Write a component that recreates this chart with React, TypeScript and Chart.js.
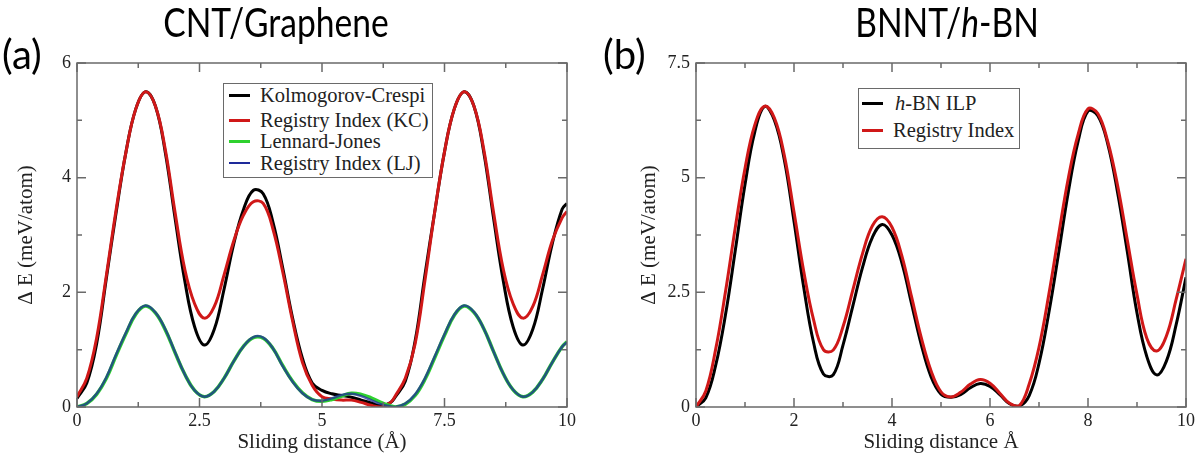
import React, { useEffect, useRef } from "react";
import { Chart, registerables } from "chart.js";

Chart.register(...registerables);

const SERIF = "'Liberation Serif', 'Times New Roman', serif";
const SANS = "Lato, 'Open Sans', sans-serif";

// ---------- Panel (a): CNT/Graphene ----------
const A_X = [
  0, 0.2, 0.4, 0.6, 0.8, 1.0, 1.2, 1.4, 1.6, 1.8, 2.0, 2.2, 2.4, 2.6, 2.8, 3.0, 3.2,
  3.4, 3.6, 3.8, 4.0, 4.2, 4.4, 4.6, 4.8, 5.0, 5.2, 5.4, 5.6, 5.8, 6.0, 6.2, 6.4,
  6.5, 6.7, 6.9, 7.1, 7.3, 7.5, 7.7, 7.9, 8.1, 8.3, 8.5, 8.7, 8.9, 9.1, 9.3, 9.5,
  9.7, 9.9, 10.0,
];
const A_KC = [
  0.15, 0.42, 1.1, 2.25, 3.4, 4.45, 5.2, 5.5, 5.25, 4.45, 3.3, 2.2, 1.4, 1.08, 1.35, 2.05, 2.85,
  3.45, 3.78, 3.72, 3.22, 2.42, 1.55, 0.85, 0.42, 0.29, 0.23, 0.2, 0.17, 0.12, 0.07, 0.02, 0.08,
  0.18, 0.45, 1.15, 2.3, 3.4, 4.45, 5.2, 5.5, 5.25, 4.45, 3.3, 2.2, 1.4, 1.08, 1.35, 2.05,
  2.85, 3.45, 3.55,
];
const A_RI_KC = [
  0.18, 0.5, 1.2, 2.3, 3.45, 4.45, 5.2, 5.5, 5.25, 4.5, 3.4, 2.4, 1.8, 1.55, 1.75, 2.3, 2.9,
  3.35, 3.58, 3.55, 3.1, 2.35, 1.5, 0.78, 0.38, 0.18, 0.14, 0.12, 0.12, 0.08, 0.03, 0.0, 0.08,
  0.2, 0.5, 1.1, 2.2, 3.4, 4.45, 5.2, 5.5, 5.25, 4.5, 3.4, 2.4, 1.8, 1.55, 1.75, 2.3,
  2.9, 3.3, 3.41,
];
const A_LJ = [
  0.0, 0.06, 0.22, 0.5, 0.9, 1.28, 1.62, 1.76, 1.64, 1.35, 0.95, 0.57, 0.29, 0.18, 0.27, 0.5, 0.8,
  1.06, 1.21, 1.2, 1.02, 0.72, 0.45, 0.25, 0.13, 0.1, 0.13, 0.19, 0.24, 0.22, 0.16, 0.08, 0.02,
  0.0, 0.05, 0.2, 0.48, 0.86, 1.25, 1.6, 1.76, 1.65, 1.37, 0.97, 0.58, 0.3, 0.18, 0.26, 0.48,
  0.78, 1.05, 1.14,
];
const A_RI_LJ = [
  0.0, 0.06, 0.23, 0.52, 0.92, 1.3, 1.63, 1.77, 1.65, 1.36, 0.96, 0.57, 0.29, 0.18, 0.27, 0.5, 0.8,
  1.06, 1.22, 1.21, 1.02, 0.71, 0.44, 0.24, 0.13, 0.11, 0.15, 0.21, 0.23, 0.19, 0.12, 0.05, 0.01,
  0.0, 0.06, 0.22, 0.5, 0.88, 1.27, 1.61, 1.77, 1.66, 1.37, 0.97, 0.58, 0.3, 0.18, 0.26, 0.48,
  0.78, 1.05, 1.13,
];
const A_X_MAJOR = [0, 2.5, 5, 7.5, 10];
const A_X_MINOR = [1.25, 3.75, 6.25, 8.75];
const A_Y_MAJOR = [0, 2, 4, 6];
const A_Y_MINOR = [1, 3, 5];
const A_LABELS = ["Kolmogorov-Crespi", "Registry Index (KC)", "Lennard-Jones", "Registry Index (LJ)"];

// ---------- Panel (b): BNNT/h-BN ----------
const B_X = [
  0, 0.2, 0.4, 0.6, 0.8, 1.0, 1.2, 1.4, 1.6, 1.8, 2.0, 2.2, 2.4, 2.6, 2.8, 3.0, 3.2, 3.4,
  3.6, 3.8, 4.0, 4.2, 4.4, 4.6, 4.8, 5.0, 5.2, 5.4, 5.6, 5.8, 6.0, 6.2, 6.4, 6.6, 6.8,
  7.0, 7.2, 7.4, 7.6, 7.8, 8.0, 8.2, 8.4, 8.6, 8.8, 9.0, 9.2, 9.4, 9.6, 9.8, 10.0,
];
const B_ILP = [
  0.0, 0.2, 0.9, 2.0, 3.4, 4.85, 6.0, 6.55, 6.25, 5.4, 4.05, 2.6, 1.4, 0.72, 0.7, 1.35, 2.2, 3.05,
  3.7, 3.98, 3.75, 3.15, 2.25, 1.35, 0.65, 0.28, 0.21, 0.27, 0.42, 0.51, 0.45, 0.27, 0.07, 0.02, 0.25,
  0.95, 2.05, 3.35, 4.7, 5.8, 6.45, 6.35, 5.75, 4.7, 3.4, 2.05, 1.1, 0.7, 1.0, 1.8, 2.83,
];
const B_RI = [
  0.0, 0.35, 1.25, 2.5, 3.9, 5.2, 6.15, 6.56, 6.3, 5.5, 4.25, 2.95, 1.9, 1.25, 1.24, 1.75, 2.55, 3.35,
  3.95, 4.15, 3.92, 3.3, 2.4, 1.5, 0.78, 0.33, 0.22, 0.32, 0.5, 0.6, 0.52, 0.3, 0.08, 0.03, 0.5,
  1.3, 2.45, 3.75, 5.0, 5.95, 6.5, 6.4, 5.8, 4.85, 3.65, 2.45, 1.5, 1.22, 1.55, 2.35, 3.23,
];
const B_X_MAJOR = [0, 2, 4, 6, 8, 10];
const B_X_MINOR = [1, 3, 5, 7, 9];
const B_Y_MAJOR = [0, 2.5, 5, 7.5];
const B_Y_MINOR = [1.25, 3.75, 6.25];
const B_LABELS = ["h-BN ILP", "Registry Index"];

const BLACK = "#000000";
const RED = "#d01818";
const GREEN = "#2ed12e";
const BLUE = "#1e2a9a";
const BLUE_OVER = "rgba(30,42,154,0.74)";
const FRAME = "#6a6a6a";
const TEXT = "#222222";

const frameTicks = {
  id: "frameTicks",
  afterDatasetsDraw(chart: any, _args: any, opts: any) {
    const { ctx, chartArea } = chart;
    const { left, right, top, bottom } = chartArea;
    const xs = chart.scales.x;
    const ys = chart.scales.y;
    ctx.save();
    ctx.strokeStyle = FRAME;
    ctx.lineWidth = 1.5;
    ctx.beginPath();
    const drawX = (vals: number[], len: number) => {
      for (const v of vals) {
        const p = xs.getPixelForValue(v);
        ctx.moveTo(p, bottom);
        ctx.lineTo(p, bottom - len);
        ctx.moveTo(p, top);
        ctx.lineTo(p, top + len);
      }
    };
    const drawY = (vals: number[], len: number) => {
      for (const v of vals) {
        const p = ys.getPixelForValue(v);
        ctx.moveTo(left, p);
        ctx.lineTo(left + len, p);
        ctx.moveTo(right, p);
        ctx.lineTo(right - len, p);
      }
    };
    drawX(opts.xMajor, 9);
    drawX(opts.xMinor, 5);
    drawY(opts.yMajor, 9);
    drawY(opts.yMinor, 5);
    ctx.stroke();
    ctx.strokeRect(left, top, right - left, bottom - top);
    ctx.restore();
  },
};

function pts(xs: number[], ys: number[]) {
  return xs.map((x, i) => ({ x, y: ys[i] }));
}

type PanelCfg = {
  left: number;
  padRight: number;
  yWidth: number;
  yTitlePad: number;
  yMax: number;
  yStep: number;
  xStep: number;
  xTitle: string;
  datasets: any[];
  ticks: any;
};

function Panel({ cfg }: { cfg: PanelCfg }) {
  const ref = useRef<HTMLCanvasElement>(null);
  useEffect(() => {
    const chart = new Chart(ref.current as HTMLCanvasElement, {
      type: "line",
      data: { datasets: cfg.datasets },
      options: {
        animation: false,
        responsive: true,
        maintainAspectRatio: false,
        layout: { padding: { left: 0, right: cfg.padRight, top: 63, bottom: 0 } },
        elements: { point: { radius: 0 } },
        plugins: {
          legend: { display: false },
          tooltip: { enabled: false },
          frameTicks: cfg.ticks,
        } as any,
        scales: {
          x: {
            type: "linear",
            min: 0,
            max: 10,
            grid: { display: false, drawTicks: false },
            border: { display: false },
            ticks: {
              stepSize: cfg.xStep,
              autoSkip: false,
              maxRotation: 0,
              padding: 3,
              color: TEXT,
              font: { family: SERIF, size: 18 },
            },
            title: {
              display: true,
              text: cfg.xTitle,
              color: TEXT,
              font: { family: SERIF, size: 21 },
              padding: { top: 0, bottom: 2.5 },
            },
            afterFit: (s: any) => {
              s.height = 51;
            },
          },
          y: {
            type: "linear",
            min: 0,
            max: cfg.yMax,
            grid: { display: false, drawTicks: false },
            border: { display: false },
            ticks: {
              stepSize: cfg.yStep,
              padding: 6,
              color: TEXT,
              font: { family: SERIF, size: 18 },
            },
            title: {
              display: true,
              text: "Δ E (meV/atom)",
              color: TEXT,
              font: { family: SERIF, size: 21 },
              padding: { top: cfg.yTitlePad, bottom: 0 },
            },
            afterFit: (s: any) => {
              s.width = cfg.yWidth;
            },
          },
        },
      },
      plugins: [frameTicks],
    });
    return () => chart.destroy();
  }, []);
  return (
    <div style={{ position: "absolute", left: cfg.left, top: 0, width: 602, height: 458 }}>
      <canvas ref={ref} />
    </div>
  );
}

const line = (
  label: string,
  xs: number[],
  ys: number[],
  color: string,
  width: number,
  order: number
) => ({
  label,
  data: pts(xs, ys),
  borderColor: color,
  backgroundColor: color,
  borderWidth: width,
  pointRadius: 0,
  tension: 0.4,
  fill: false,
  order,
});

const cfgA: PanelCfg = {
  left: 0,
  padRight: 35,
  yWidth: 77,
  yTitlePad: 14,
  yMax: 6,
  yStep: 2,
  xStep: 2.5,
  xTitle: "Sliding distance (Å)",
  datasets: [
    line(A_LABELS[0], A_X, A_KC, BLACK, 3, 3),
    line(A_LABELS[1], A_X, A_RI_KC, RED, 3, 2),
    line(A_LABELS[2], A_X, A_LJ, GREEN, 3.5, 1),
    line(A_LABELS[3], A_X, A_RI_LJ, BLUE_OVER, 2.5, 0),
  ],
  ticks: { xMajor: A_X_MAJOR, xMinor: A_X_MINOR, yMajor: A_Y_MAJOR, yMinor: A_Y_MINOR },
};

const cfgB: PanelCfg = {
  left: 602,
  padRight: 18,
  yWidth: 94,
  yTitlePad: 35,
  yMax: 7.5,
  yStep: 2.5,
  xStep: 2,
  xTitle: "Sliding distance Å",
  datasets: [
    line(B_LABELS[0], B_X, B_ILP, BLACK, 3, 1),
    line(B_LABELS[1], B_X, B_RI, RED, 3, 0),
  ],
  ticks: { xMajor: B_X_MAJOR, xMinor: B_X_MINOR, yMajor: B_Y_MAJOR, yMinor: B_Y_MINOR },
};

const abs = (s: React.CSSProperties): React.CSSProperties => ({ position: "absolute", ...s });

function LegendRow({ x, textX, cy, color, width, size, children }: any) {
  return (
    <>
      <div style={abs({ left: x, top: cy - width / 2, width: 21, height: width, background: color })} />
      <div
        style={abs({
          left: textX,
          top: cy - 10.5,
          fontFamily: SERIF,
          fontSize: size,
          lineHeight: "21px",
          color: TEXT,
          whiteSpace: "nowrap",
        })}
      >
        {children}
      </div>
    </>
  );
}

export default function App() {
  const titleStyle: React.CSSProperties = {
    position: "absolute",
    top: 2,
    fontFamily: SANS,
    fontSize: 40,
    lineHeight: "40px",
    color: "#000",
    textAlign: "center",
    whiteSpace: "nowrap",
  };
  const squeeze: React.CSSProperties = { transform: "scaleX(0.84)", transformOrigin: "center" };
  return (
    <div style={{ position: "fixed", left: 0, top: 0, width: 1204, height: 458, background: "#fff" }}>
      <Panel cfg={cfgA} />
      <Panel cfg={cfgB} />
      <div style={{ ...titleStyle, ...squeeze, left: 76, width: 400 }}>CNT/Graphene</div>
      <div style={{ ...titleStyle, ...squeeze, left: 747, width: 400 }}>
        BNNT/<i>h</i>-BN
      </div>
      <div style={{ ...titleStyle, left: 2, top: 34 }}>(a)</div>
      <div style={{ ...titleStyle, left: 603, top: 34 }}>(b)</div>

      {/* legend (a) */}
      <div style={abs({ left: 223, top: 83, width: 210, height: 95, border: `1.5px solid ${FRAME}`, background: "#fff", boxSizing: "border-box" })} />
      <LegendRow x={229} textX={260} cy={95} color={BLACK} width={3} size={20.5}>{A_LABELS[0]}</LegendRow>
      <LegendRow x={229} textX={260} cy={120.5} color={RED} width={3} size={20.5}>{A_LABELS[1]}</LegendRow>
      <LegendRow x={229} textX={260} cy={141.7} color={GREEN} width={3} size={20.5}>{A_LABELS[2]}</LegendRow>
      <LegendRow x={229} textX={260} cy={163.3} color={BLUE} width={2} size={20.5}>{A_LABELS[3]}</LegendRow>

      {/* legend (b) */}
      <div style={abs({ left: 858, top: 88, width: 162, height: 61, border: `1.5px solid ${FRAME}`, background: "#fff", boxSizing: "border-box" })} />
      <LegendRow x={862} textX={895} cy={103.3} color={BLACK} width={3} size={20.5}>
        <i>h</i>-BN ILP
      </LegendRow>
      <LegendRow x={862} textX={893} cy={130} color={RED} width={3} size={20.5}>{B_LABELS[1]}</LegendRow>
    </div>
  );
}
